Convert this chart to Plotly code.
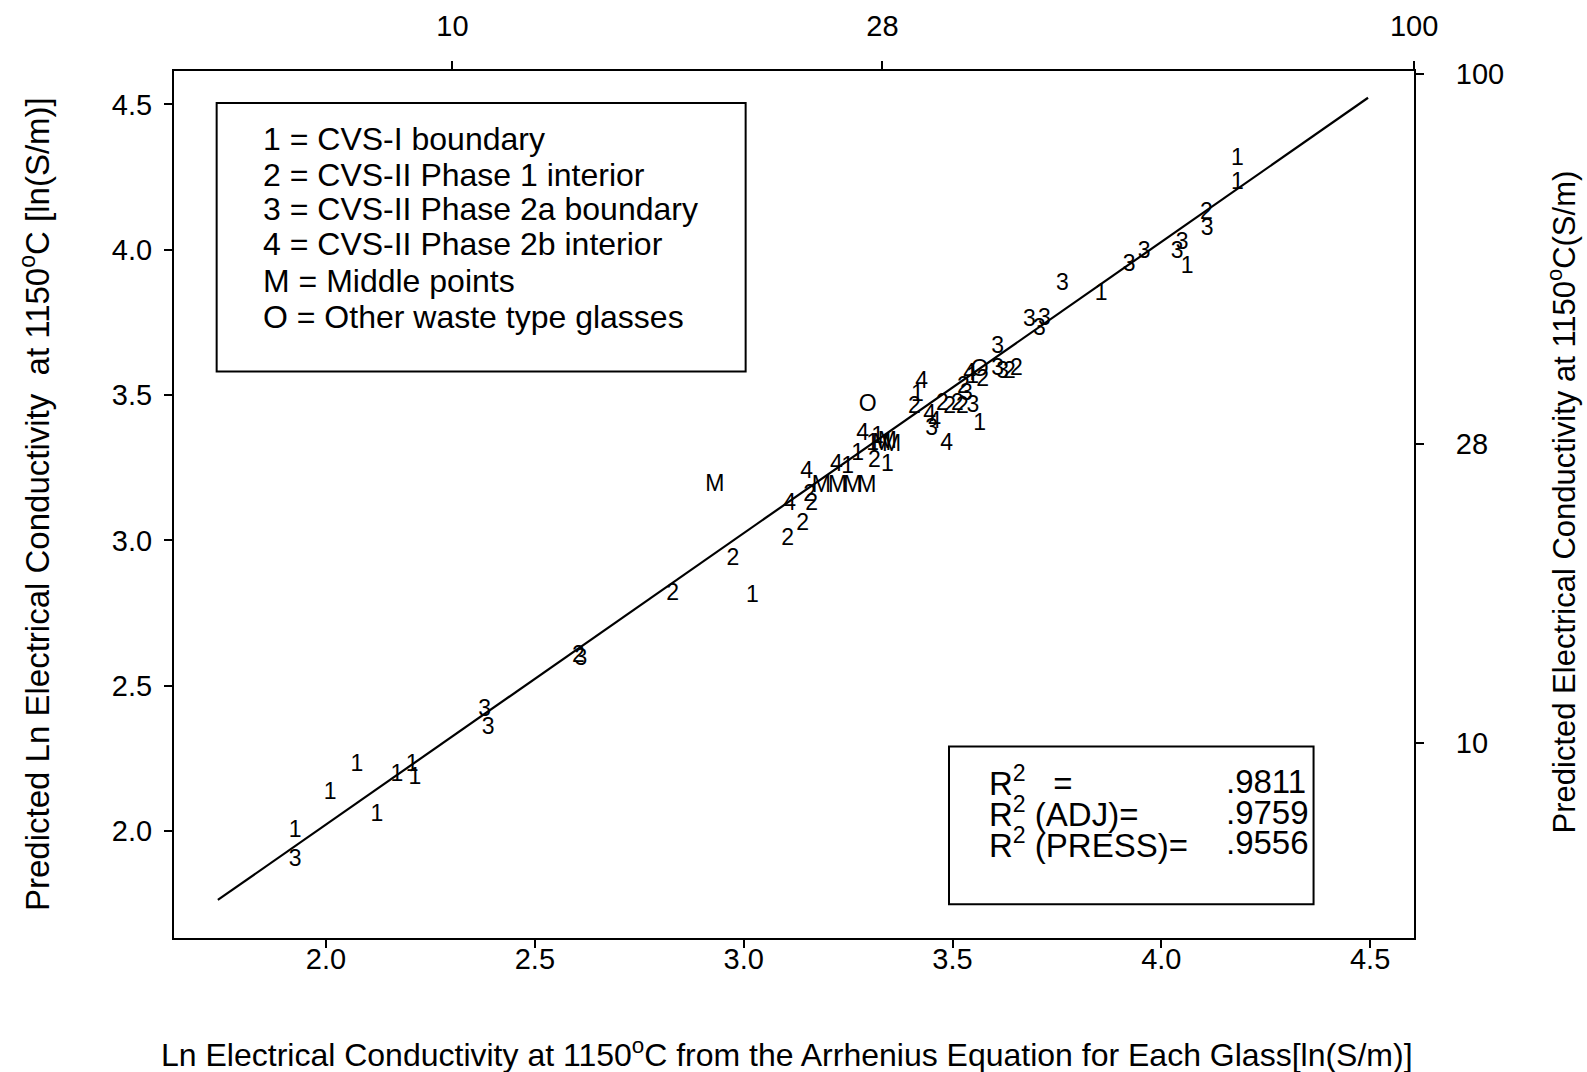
import numpy as np
import plotly.graph_objects as go

# ---------------- data ----------------
g1_x = [1.926, 2.010, 2.074, 2.122, 2.170, 2.206, 2.213, 3.021, 3.249, 3.273, 3.309, 3.321, 3.344, 3.416, 3.565, 3.548, 3.856, 4.062, 4.182, 4.182]
g1_y = [2.000, 2.131, 2.228, 2.055, 2.193, 2.228, 2.183, 2.807, 3.252, 3.297, 3.331, 3.355, 3.259, 3.500, 3.400, 3.560, 3.848, 3.941, 4.228, 4.310]

g2_x = [2.604, 2.830, 2.974, 3.105, 3.141, 3.158, 3.163, 3.313, 3.409, 3.476, 3.493, 3.512, 3.524, 3.526, 3.572, 3.636, 3.653, 4.108]
g2_y = [2.600, 2.814, 2.934, 3.003, 3.055, 3.155, 3.124, 3.272, 3.459, 3.469, 3.459, 3.469, 3.459, 3.528, 3.552, 3.579, 3.590, 4.124]

g3_x = [1.926, 2.380, 2.388, 2.610, 3.450, 3.533, 3.549, 3.608, 3.608, 3.620, 3.684, 3.708, 3.720, 3.763, 3.923, 3.959, 4.038, 4.050, 4.110]
g3_y = [1.900, 2.417, 2.355, 2.590, 3.383, 3.503, 3.460, 3.666, 3.590, 3.579, 3.759, 3.728, 3.762, 3.883, 3.948, 3.993, 3.993, 4.021, 4.069]

g4_x = [3.110, 3.151, 3.222, 3.285, 3.426, 3.445, 3.457, 3.486, 3.541]
g4_y = [3.124, 3.234, 3.259, 3.366, 3.545, 3.431, 3.407, 3.331, 3.572]

gM_x = [2.931, 3.186, 3.225, 3.261, 3.295, 3.330, 3.344, 3.354]
gM_y = [3.190, 3.186, 3.186, 3.186, 3.186, 3.331, 3.338, 3.328]

gO_x = [3.297, 3.565]
gO_y = [3.466, 3.586]

groups = [("1", g1_x, g1_y), ("2", g2_x, g2_y), ("3", g3_x, g3_y),
          ("4", g4_x, g4_y), ("M", gM_x, gM_y), ("O", gO_x, gO_y)]

fit_x = [1.741, 4.495]
fit_y = [1.763, 4.523]

x_ticks = [2.0, 2.5, 3.0, 3.5, 4.0, 4.5]
y_ticks = [2.0, 2.5, 3.0, 3.5, 4.0, 4.5]
cond_ticks = [10, 28, 100]

legend_lines = ["1 = CVS-I boundary", "2 = CVS-II Phase 1 interior",
                "3 = CVS-II Phase 2a boundary", "4 = CVS-II Phase 2b interior",
                "M = Middle points", "O = Other waste type glasses"]
stat_labels = ["R<sup>2</sup>   =", "R<sup>2</sup> (ADJ)=", "R<sup>2</sup> (PRESS)="]
stat_values = [".9811", ".9759", ".9556"]

# ---------------- figure ----------------
FONT = "Liberation Sans, Arial, Helvetica, sans-serif"
XR = [1.636, 4.605]
YR = [1.632, 4.615]

fig = go.Figure()
fig.add_trace(go.Scatter(x=fit_x, y=fit_y, mode="lines",
                         line=dict(color="black", width=2.2), showlegend=False,
                         hoverinfo="skip"))
for lab, gx, gy in groups:
    fig.add_trace(go.Scatter(x=gx, y=gy, mode="text", text=[lab] * len(gx),
                             textposition="middle center",
                             textfont=dict(family=FONT, size=23, color="black"),
                             showlegend=False, name=lab))

# dummy trace to activate secondary axes
fig.add_trace(go.Scatter(x=[XR[0]], y=[YR[0]], xaxis="x2", yaxis="y2",
                         mode="markers", marker=dict(opacity=0), showlegend=False,
                         hoverinfo="skip"))


def axis_common(standoff):
    return dict(showline=True, linecolor="black", linewidth=2,
                ticks="outside", ticklen=8, tickwidth=1.5, tickcolor="black",
                showgrid=False, zeroline=False, ticklabelstandoff=standoff,
                automargin=False,
                tickfont=dict(family=FONT, size=29, color="black"))


fig.update_layout(
    width=1587, height=1072,
    margin=dict(l=174, r=173, t=71, b=134),
    paper_bgcolor="white", plot_bgcolor="white",
    xaxis=dict(range=XR, tickvals=x_ticks, ticktext=[f"{v:.1f}" for v in x_ticks],
               **axis_common(-14)),
    yaxis=dict(range=YR, tickvals=y_ticks, ticktext=[f"{v:.1f}" for v in y_ticks],
               **axis_common(6)),
    xaxis2=dict(range=XR, overlaying="x", side="top", anchor="y",
                tickvals=[float(np.log(v)) for v in cond_ticks],
                ticktext=[str(v) for v in cond_ticks], **axis_common(13)),
    yaxis2=dict(range=YR, overlaying="y", side="right", anchor="x",
                tickvals=[float(np.log(v)) for v in cond_ticks],
                ticktext=[str(v) for v in cond_ticks], **axis_common(26)),
)

# legend box and stats box
fig.add_shape(type="rect", xref="paper", yref="paper", x0=0.0344, x1=0.461,
              y0=0.6535, y1=0.963, line=dict(color="black", width=2))
fig.add_shape(type="rect", xref="paper", yref="paper", x0=0.625, x1=0.919,
              y0=0.039, y1=0.221, line=dict(color="black", width=2))

leg_y = [0.922, 0.880, 0.8414, 0.8003, 0.7574, 0.7166]
for txt, yy in zip(legend_lines, leg_y):
    fig.add_annotation(xref="paper", yref="paper", x=0.0702, y=yy, text=txt,
                       showarrow=False, xanchor="left", yanchor="middle",
                       font=dict(family=FONT, size=32, color="black"))

stat_y = [0.181, 0.1453, 0.1096]
for lab, val, yy in zip(stat_labels, stat_values, stat_y):
    fig.add_annotation(xref="paper", yref="paper", x=0.6556, y=yy, text=lab,
                       showarrow=False, xanchor="left", yanchor="middle",
                       font=dict(family=FONT, size=33, color="black"))
    fig.add_annotation(xref="paper", yref="paper", x=0.847, y=yy, text=val,
                       showarrow=False, xanchor="left", yanchor="middle",
                       font=dict(family=FONT, size=33, color="black"))

# axis titles
fig.add_annotation(xref="paper", yref="paper", x=0.494, y=-0.133,
                   text="Ln Electrical Conductivity at 1150<sup>o</sup>C from the Arrhenius Equation for Each Glass[ln(S/m)]",
                   showarrow=False, xanchor="center", yanchor="middle",
                   font=dict(family=FONT, size=32, color="black"))
fig.add_annotation(xref="paper", yref="paper", x=-0.1125, y=0.500,
                   text="Predicted Ln Electrical Conductivity  at 1150<sup>o</sup>C [ln(S/m)]",
                   showarrow=False, textangle=-90, xanchor="center", yanchor="middle",
                   font=dict(family=FONT, size=33, color="black"))
fig.add_annotation(xref="paper", yref="paper", x=1.119, y=0.503,
                   text="Predicted Electrical Conductivity at 1150<sup>o</sup>C(S/m)",
                   showarrow=False, textangle=-90, xanchor="center", yanchor="middle",
                   font=dict(family=FONT, size=31, color="black"))

fig.write_html("out.html")
